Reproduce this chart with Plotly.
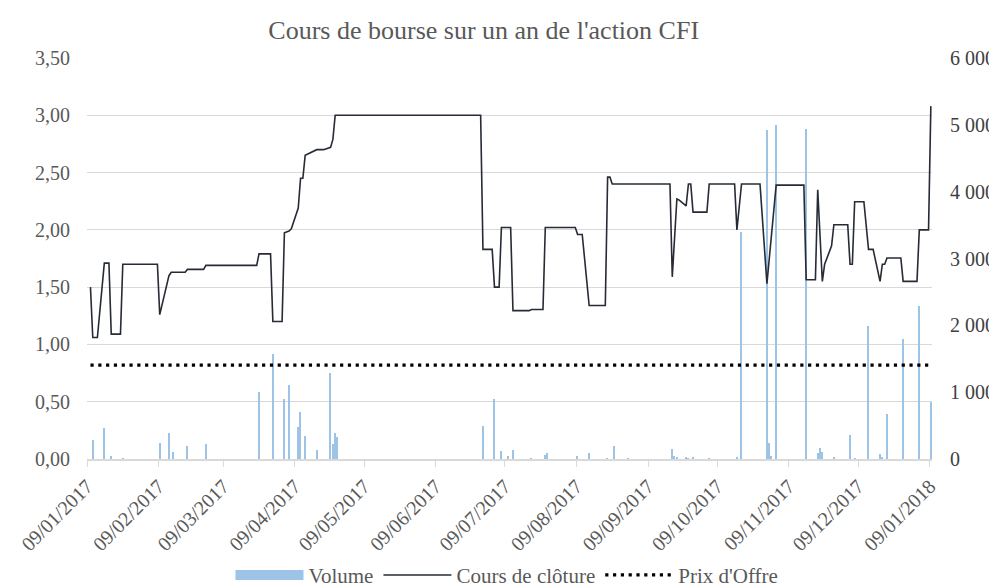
import plotly.graph_objects as go

# ---------------- data ----------------
price_dates = [
    "2017-01-10", "2017-01-11", "2017-01-13", "2017-01-16", "2017-01-18", "2017-01-19",
    "2017-01-23", "2017-01-24", "2017-02-08", "2017-02-09", "2017-02-13", "2017-02-14",
    "2017-02-20", "2017-02-21", "2017-02-28", "2017-03-01", "2017-03-23", "2017-03-24",
    "2017-03-29", "2017-03-30", "2017-04-03", "2017-04-04", "2017-04-06", "2017-04-07",
    "2017-04-10", "2017-04-11", "2017-04-12", "2017-04-13", "2017-04-18", "2017-04-21",
    "2017-04-24", "2017-04-25", "2017-04-26", "2017-06-28", "2017-06-29", "2017-07-03",
    "2017-07-04", "2017-07-06", "2017-07-07", "2017-07-11", "2017-07-12", "2017-07-19",
    "2017-07-20", "2017-07-25", "2017-07-26", "2017-08-08", "2017-08-09", "2017-08-11",
    "2017-08-14", "2017-08-21", "2017-08-22", "2017-08-23", "2017-08-24", "2017-09-18",
    "2017-09-19", "2017-09-21", "2017-09-22", "2017-09-25", "2017-09-26", "2017-09-27",
    "2017-09-28", "2017-10-04", "2017-10-05", "2017-10-16", "2017-10-17", "2017-10-19",
    "2017-10-27", "2017-10-30", "2017-11-03", "2017-11-15", "2017-11-16", "2017-11-20",
    "2017-11-21", "2017-11-23", "2017-11-24", "2017-11-27", "2017-11-28", "2017-12-04",
    "2017-12-05", "2017-12-06", "2017-12-07", "2017-12-11", "2017-12-13", "2017-12-15",
    "2017-12-18", "2017-12-19", "2017-12-20", "2017-12-21", "2017-12-27", "2017-12-28",
    "2018-01-03", "2018-01-04", "2018-01-08", "2018-01-09",
]
price_values = [
    1.50, 1.06, 1.06, 1.71, 1.71, 1.09,
    1.09, 1.70, 1.70, 1.26, 1.60, 1.63,
    1.63, 1.655, 1.655, 1.69, 1.69, 1.79,
    1.79, 1.20, 1.20, 1.975, 1.99, 2.01,
    2.19, 2.45, 2.45, 2.65, 2.70, 2.70,
    2.72, 2.79, 3.00, 3.00, 1.83, 1.83,
    1.50, 1.50, 2.02, 2.02, 1.295, 1.295,
    1.305, 1.305, 2.02, 2.02, 1.96, 1.96,
    1.34, 1.34, 2.46, 2.46, 2.40, 2.40,
    1.59, 2.27, 2.26, 2.21, 2.40, 2.40,
    2.155, 2.155, 2.40, 2.40, 2.00, 2.40,
    2.40, 1.53, 2.39, 2.39, 1.565, 1.565,
    2.35, 1.55, 1.70, 1.86, 2.045, 2.045,
    1.70, 1.70, 2.245, 2.245, 1.83, 1.83,
    1.55, 1.70, 1.70, 1.755, 1.755, 1.55,
    1.55, 2.00, 2.00, 3.08,
]

volume_dates = [
    "2017-01-11", "2017-01-16", "2017-01-19", "2017-01-24", "2017-02-09", "2017-02-13",
    "2017-02-15", "2017-02-21", "2017-03-01", "2017-03-24", "2017-03-30", "2017-04-04",
    "2017-04-06", "2017-04-10", "2017-04-11", "2017-04-13", "2017-04-18", "2017-04-24",
    "2017-04-25", "2017-04-26", "2017-04-27", "2017-06-29", "2017-07-04", "2017-07-07",
    "2017-07-10", "2017-07-12", "2017-07-20", "2017-07-26", "2017-07-27", "2017-08-09",
    "2017-08-14", "2017-08-22", "2017-08-25", "2017-08-31", "2017-09-19", "2017-09-20",
    "2017-09-21", "2017-09-25", "2017-09-26", "2017-09-28", "2017-10-05", "2017-10-17",
    "2017-10-19", "2017-10-30", "2017-10-31", "2017-11-01", "2017-11-03", "2017-11-16",
    "2017-11-21", "2017-11-22", "2017-11-23", "2017-11-28", "2017-12-05", "2017-12-07",
    "2017-12-13", "2017-12-18", "2017-12-19", "2017-12-21", "2017-12-28", "2018-01-04",
    "2018-01-09",
]
volume_values = [
    290, 465, 40, 15, 240, 390,
    100, 190, 230, 1000, 1575, 900,
    1100, 480, 710, 350, 140, 1285,
    230, 390, 330, 500, 900, 115,
    50, 130, 12, 60, 90, 50,
    90, 12, 190, 12, 150, 50,
    25, 35, 15, 20, 15, 25,
    3400, 4930, 240, 40, 5005, 4945,
    90, 170, 100, 20, 360, 15,
    1995, 75, 25, 675, 1800, 2285,
    860,
]

offer_dates = ["2017-01-10", "2018-01-09"]
offer_values = [0.82, 0.82]

tick_dates = [
    "2017-01-09", "2017-02-09", "2017-03-09", "2017-04-09", "2017-05-09", "2017-06-09",
    "2017-07-09", "2017-08-09", "2017-09-09", "2017-10-09", "2017-11-09", "2017-12-09",
    "2018-01-09",
]
tick_labels = [
    "09/01/2017", "09/02/2017", "09/03/2017", "09/04/2017", "09/05/2017", "09/06/2017",
    "09/07/2017", "09/08/2017", "09/09/2017", "09/10/2017", "09/11/2017", "09/12/2017",
    "09/01/2018",
]

DAY_MS = 86400000
FONT = "Liberation Serif"
BAR_COLOR = "#9DC3E6"

fig = go.Figure()

fig.add_trace(go.Bar(
    name="Volume", x=volume_dates, y=volume_values, yaxis="y",
    xperiod=DAY_MS, xperiodalignment="middle",
    width=DAY_MS * 0.55,
    marker=dict(color=BAR_COLOR, line=dict(width=0)),
    legendgroup="vol", showlegend=False,
))
# legend entry for the volume series (wide swatch like the original)
fig.add_trace(go.Scatter(
    name="Volume", x=[None], y=[None], yaxis="y",
    mode="lines", line=dict(color=BAR_COLOR, width=13),
    legendgroup="vol", showlegend=True, hoverinfo="skip",
))
fig.add_trace(go.Scatter(
    name="Cours de clôture", x=price_dates, y=price_values, yaxis="y2",
    xperiod=DAY_MS, xperiodalignment="middle",
    mode="lines", line=dict(color="#262B35", width=1.6),
))
fig.add_trace(go.Scatter(
    name="Prix d'Offre", x=offer_dates, y=offer_values, yaxis="y2",
    xperiod=DAY_MS, xperiodalignment="middle",
    mode="lines", line=dict(color="#000000", width=3.2, dash="3.2px,4.6px"),
))

# the page body adds an 8px offset, so the figure is sized to fill the rest of the window
fig.update_layout(
    width=989, height=579,
    paper_bgcolor="white", plot_bgcolor="white",
    separators=", ",
    margin=dict(l=79, r=65, t=50, b=128, autoexpand=False),
    font=dict(family=FONT, color="#595959", size=20),
    title=dict(text="Cours de bourse sur un an de l'action CFI",
               x=0.481, xanchor="center", y=0.962, yanchor="middle",
               font=dict(family=FONT, size=26, color="#595959")),
    barmode="overlay",
    bargap=0,
    showlegend=True,
    legend=dict(orientation="h", x=0.497, xanchor="center", y=-0.29, yanchor="middle",
                font=dict(family=FONT, size=21, color="#595959"),
                traceorder="normal", itemwidth=68),
    xaxis=dict(
        type="date", automargin=False,
        range=["2017-01-09", "2018-01-10"],
        tickmode="array", tickvals=tick_dates, ticktext=tick_labels,
        tickangle=-45,
        showgrid=False, zeroline=False,
        showline=True, linecolor="#D9D9D9", linewidth=1.5,
        ticks="outside", ticklen=6, tickcolor="#D9D9D9",
        tickfont=dict(family=FONT, size=20, color="#595959"),
    ),
    yaxis=dict(
        side="right", range=[0, 6000], dtick=1000, tickformat=",d", automargin=False,
        showgrid=False, zeroline=False, showline=False,
        ticks="", ticklabelstandoff=17,
        tickfont=dict(family=FONT, size=20, color="#404040"),
    ),
    yaxis2=dict(
        side="left", overlaying="y", range=[0, 3.5], dtick=0.5, tickformat=".2f", automargin=False,
        showgrid=True, gridcolor="#D9D9D9", gridwidth=1.2,
        zeroline=False, showline=False,
        ticks="", ticklabelstandoff=16,
        tickfont=dict(family=FONT, size=20, color="#595959"),
    ),
)

fig.write_html("out.html")
